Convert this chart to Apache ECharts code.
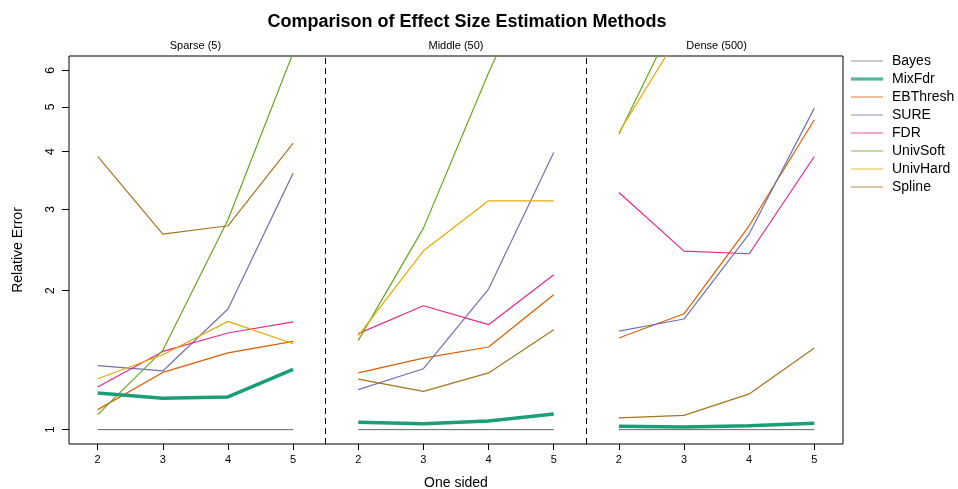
<!DOCTYPE html>
<html>
<head>
<meta charset="utf-8">
<script src="https://cdn.jsdelivr.net/npm/echarts@6/dist/echarts.min.js"></script>
<style>html,body{margin:0;padding:0;background:#fff}#c{width:958px;height:489px}</style>
</head>
<body>
<div id="c"></div>
<script>
// ---- data ----
const panels = ['Sparse (5)', 'Middle (50)', 'Dense (500)'];
const levels = [2, 3, 4, 5];
const yTicks = [1, 2, 3, 4, 5, 6];
const methods = ['Bayes', 'MixFdr', 'EBThresh', 'SURE', 'FDR', 'UnivSoft', 'UnivHard', 'Spline'];
const colors = ['#666666', '#1B9E77', '#D95F02', '#7570B3', '#E7298A', '#66A61E', '#E6AB02', '#A6761D'];
// values per panel (Sparse, Middle, Dense), each at levels 2..5
const Bayes    = [[1.00, 1.00, 1.00, 1.00], [1.00, 1.00, 1.00, 1.00], [1.00, 1.00, 1.00, 1.00]];
const MixFdr   = [[1.20, 1.17, 1.177, 1.35], [1.037, 1.030, 1.044, 1.081], [1.017, 1.013, 1.019, 1.032]];
const EBThresh = [[1.105, 1.33, 1.466, 1.553], [1.327, 1.429, 1.51, 1.96], [1.579, 1.782, 2.764, 4.69]];
const SURE     = [[1.376, 1.34, 1.825, 3.594], [1.221, 1.355, 2.016, 3.983], [1.635, 1.736, 2.656, 4.97]];
const FDR      = [[1.237, 1.477, 1.619, 1.711], [1.614, 1.855, 1.688, 2.165], [3.264, 2.436, 2.404, 3.905]];
const UnivSoft = [[1.078, 1.485, 2.848, 6.55], [1.561, 2.732, 5.93, 12.0], [4.365, 8.48, 14.0, 20.0]];
const UnivHard = [[1.289, 1.453, 1.716, 1.535], [1.598, 2.44, 3.131, 3.131], [4.40, 7.46, 11.0, 16.0]];
const Spline   = [[3.905, 2.651, 2.764, 4.173], [1.287, 1.21, 1.327, 1.646], [1.06, 1.074, 1.195, 1.503]];
const values = { Bayes, MixFdr, EBThresh, SURE, FDR, UnivSoft, UnivHard, Spline };

// ---- build ----
const nL = levels.length;
const nP = panels.length;
const xMin = 1 - 0.04 * (nL * nP - 1), xMax = nL * nP + 0.04 * (nL * nP - 1);
const xPos = []; for (let i = 1; i <= nL * nP; i++) xPos.push(i);
const seps = []; for (let p = 1; p < nP; p++) seps.push(p * nL + 0.5);
const panelCenters = panels.map((_, p) => p * nL + (nL + 1) / 2);
const lyMin = Math.log10(yTicks[0]), lyMax = Math.log10(yTicks[yTicks.length - 1]);
const yMin = Math.pow(10, lyMin - 0.04 * (lyMax - lyMin));
const yMax = Math.pow(10, lyMax + 0.04 * (lyMax - lyMin));

const font = "'Liberation Sans', Arial, Helvetica, sans-serif";
const widthOf = m => m === 'MixFdr' ? 3.5 : (m === 'Bayes' ? 1 : 1.2);
const series = methods.map((m, i) => {
  const data = [];
  values[m].forEach((arr, p) => {
    if (p > 0) data.push([p * nL + 0.5, '-']);
    arr.forEach((v, k) => data.push([p * nL + k + 1, v]));
  });
  const s = {
    name: m, type: 'line', data, symbol: 'none', showSymbol: false, connectNulls: false, clip: true,
    lineStyle: { color: colors[i], width: widthOf(m) },
    itemStyle: { color: colors[i] }, z: m === 'MixFdr' ? 3 : 2, silent: true
  };
  if (i === 0) {
    s.markLine = {
      silent: true, symbol: 'none', label: { show: false },
      lineStyle: { color: '#000', type: [6, 4], width: 1 },
      data: seps.map(x => ({ xAxis: x }))
    };
  }
  return s;
});

const chart = echarts.init(document.getElementById('c'), null, { renderer: 'canvas' });
chart.setOption({
  animation: false,
  backgroundColor: '#fff',
  textStyle: { fontFamily: font },
  title: {
    text: 'Comparison of Effect Size Estimation Methods',
    left: 462, top: 8, textAlign: 'center',
    textStyle: { fontFamily: font, fontSize: 18, fontWeight: 'bold', color: '#000' }
  },
  legend: {
    orient: 'vertical', left: 846, top: 49, itemWidth: 32, itemHeight: 14, itemGap: 4,
    selectedMode: false,
    data: methods.map((m, i) => ({
      name: m,
      icon: 'path://M0,0 L32,0 L32,' + (widthOf(m) * 0.9) + ' L0,' + (widthOf(m) * 0.9) + ' Z',
      itemStyle: { color: colors[i], opacity: 0.75 }
    })),
    textStyle: { fontFamily: font, fontSize: 14, color: '#000', padding: [0, 0, 0, 4] }
  },
  grid: { left: 69, right: 115, top: 56, bottom: 45, show: true, borderColor: '#000', borderWidth: 1,
    backgroundColor: 'transparent', containLabel: false, outerBoundsMode: 'none' },
  xAxis: [{
    type: 'value', min: xMin, max: xMax, position: 'bottom',
    name: 'One sided', nameLocation: 'middle', nameGap: 32,
    nameTextStyle: { fontFamily: font, fontSize: 14, color: '#000' },
    axisLine: { show: false },
    splitLine: { show: false },
    axisTick: { show: true, customValues: xPos, length: 6, lineStyle: { color: '#000' } },
    axisLabel: { customValues: xPos, margin: 10, fontSize: 11, color: '#000', fontFamily: font,
      formatter: v => String(levels[(Math.round(v) - 1) % nL]) }
  }, {
    type: 'value', min: xMin, max: xMax, position: 'top',
    axisLine: { show: false }, splitLine: { show: false }, axisTick: { show: false },
    axisLabel: { customValues: panelCenters, margin: 5, fontSize: 11, color: '#000', fontFamily: font,
      formatter: v => panels[Math.round((v - (nL + 1) / 2) / nL)] }
  }],
  yAxis: {
    type: 'log', logBase: 10, min: yMin, max: yMax,
    name: 'Relative Error', nameLocation: 'middle', nameGap: 44, nameRotate: 90,
    nameTextStyle: { fontFamily: font, fontSize: 14, color: '#000' },
    axisLine: { show: false }, splitLine: { show: false },
    axisTick: { show: true, customValues: yTicks, length: 7, lineStyle: { color: '#000' } },
    axisLabel: { customValues: yTicks, rotate: 90, margin: 12, fontSize: 12, color: '#000', fontFamily: font,
      formatter: v => String(Math.round(v)) }
  },
  series
});
</script>
</body>
</html>
